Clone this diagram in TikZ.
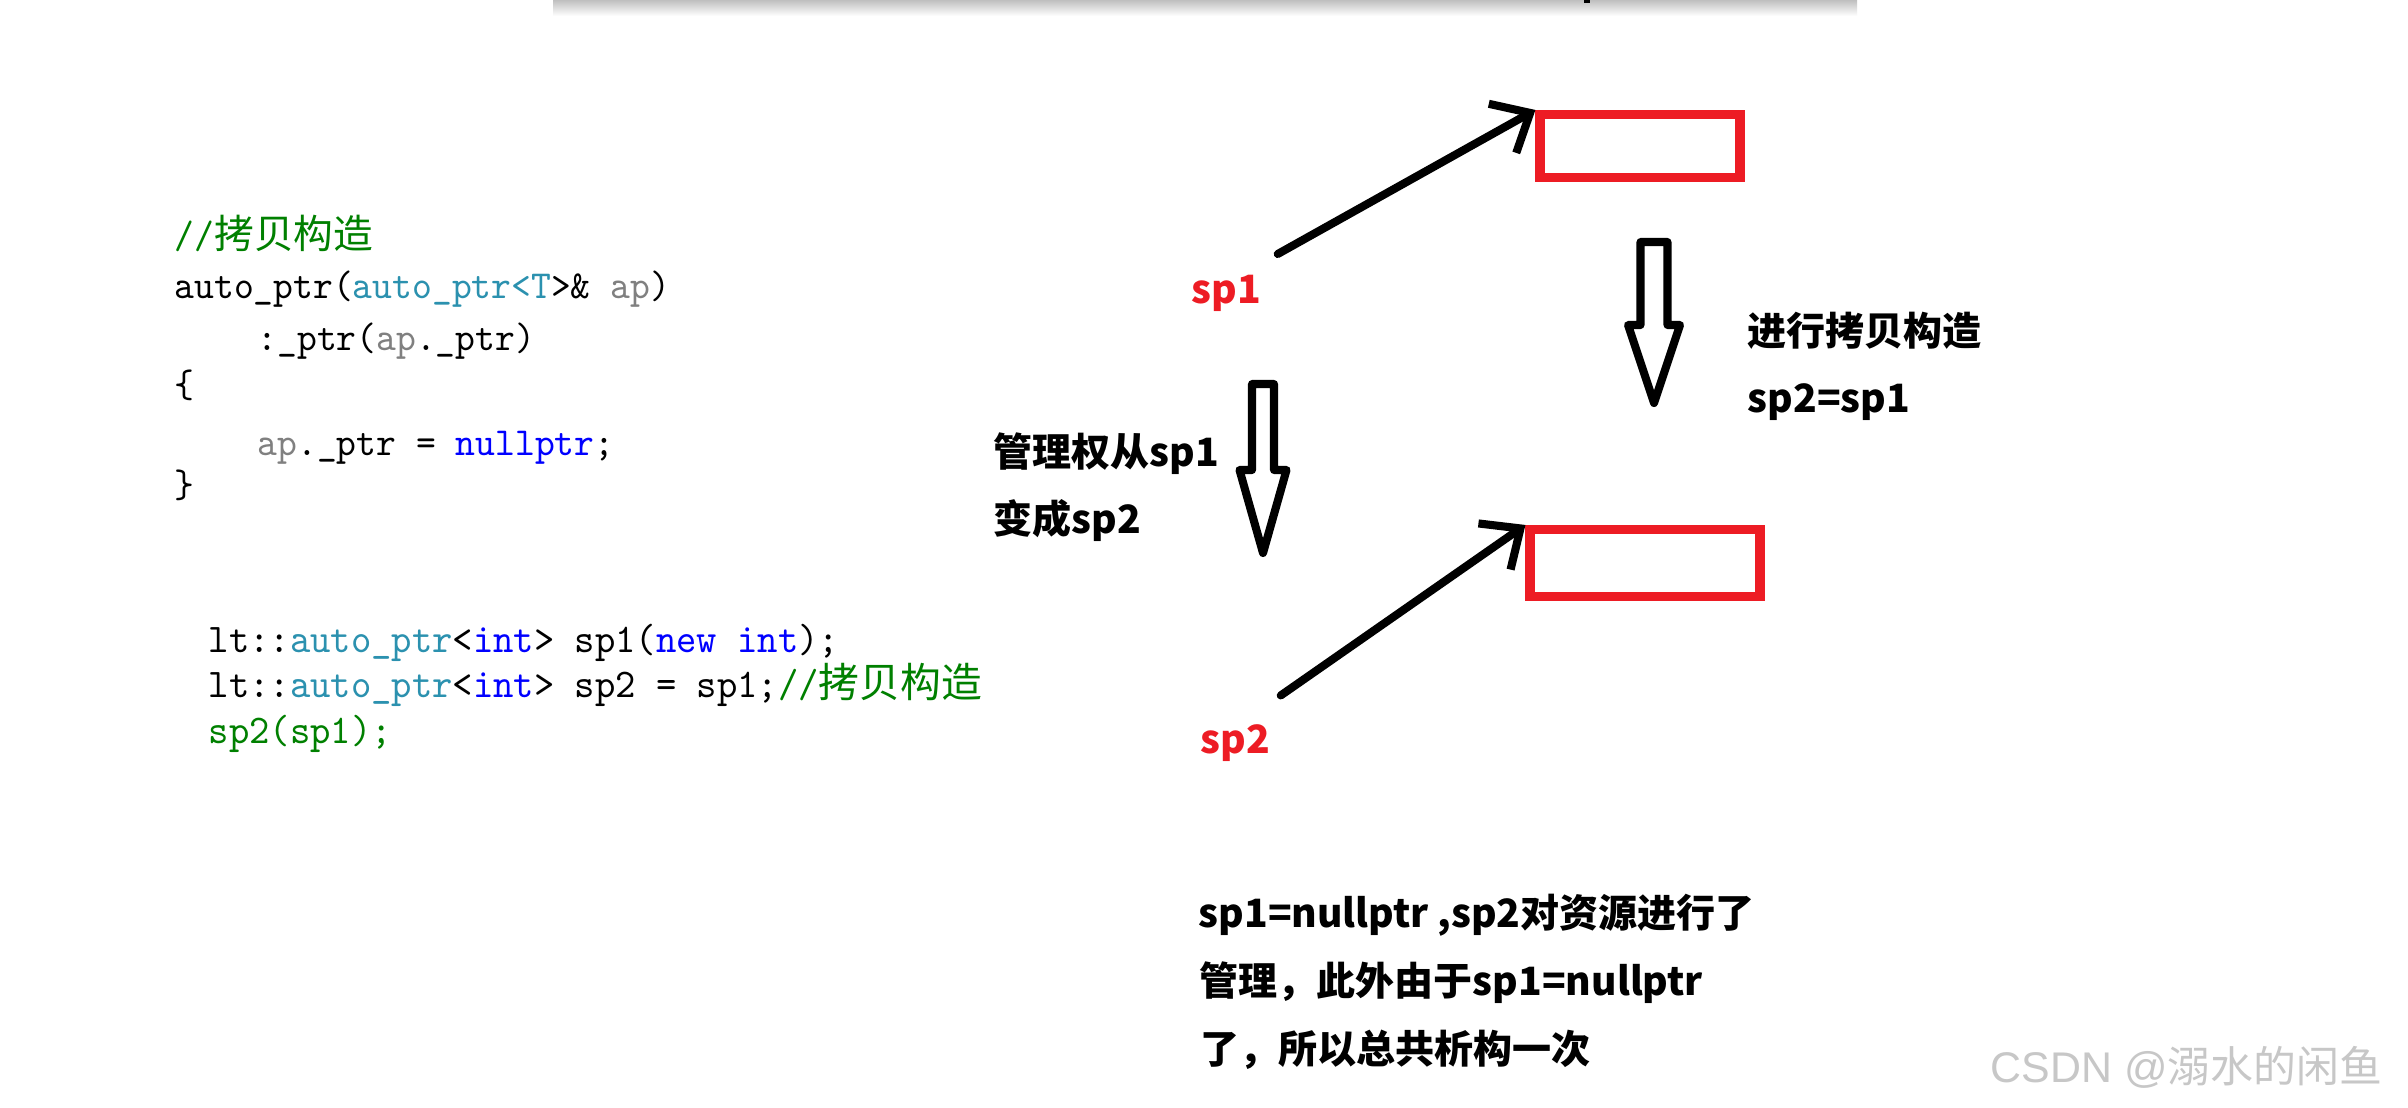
\documentclass[tikz,border=0pt]{standalone}
\usepackage{fontspec}
\usetikzlibrary{arrows.meta,positioning}

\newfontfamily\codefont{lmmono10-regular}[Extension=.otf, FakeStretch=0.95]
\newfontfamily\hanzi{Noto Sans CJK SC}
\newfontfamily\wmfont{Liberation Sans}

\definecolor{paintred}{HTML}{ED1C24}
\definecolor{vsgreen}{HTML}{008000}
\definecolor{vsteal}{HTML}{2B91AF}
\definecolor{vsgray}{HTML}{808080}
\definecolor{vsblue}{HTML}{0000FF}

\begin{document}
\begin{tikzpicture}[
    >={Straight Barb[length=9pt,width=16pt]},
    src/.style={
        anchor=base west,
        inner sep=0pt,
        font=\codefont\fontsize{11.3}{13}\selectfont
    },
    srcb/.style={
        src,
        font=\codefont\fontsize{11.6}{13}\selectfont
    },
    note/.style={
        anchor=base west,
        inner sep=0pt,
        font=\hanzi\bfseries\fontsize{11.1}{13}\selectfont
    },
    ptrlabel/.style={note, text=paintred},
    heap/.style={
        draw=paintred,
        line width=2.6pt,
        inner sep=0pt
    },
    arr/.style={->, line width=2.3pt, line cap=round},
    hollow/.style={line width=2.3pt, line join=round}
]
    \fill[white] (0,0) rectangle (24.08,-11.07);
    \useasboundingbox (0,0) rectangle (24.08,-11.07);
    \shade[top color=black!25, bottom color=white] (5.53,0) rectangle (18.57,-0.16);
    \fill (15.84,0) rectangle (15.90,-0.03);

    % copy constructor
    \node[src, text=vsgreen] (cmt) at (1.74,-2.48) {//{\hanzi 拷贝构造}};
    \node[src] (ctor) at (1.74,-2.98) {auto\_ptr({\color{vsteal}auto\_ptr<T}>\& {\color{vsgray}ap})};
    \node[src] (init) at (2.57,-3.50) {:\_ptr({\color{vsgray}ap}.\_ptr)};
    \node[src] (lbrace) at (1.74,-3.97) {\{};
    \node[src] (body) at (2.57,-4.55) {{\color{vsgray}ap}.\_ptr = {\color{vsblue}nullptr};};
    \node[src] (rbrace) at (1.74,-4.97) {\}};

    % usage
    \node[srcb] (decl1) at (2.08,-6.52) {lt::{\color{vsteal}auto\_ptr}<{\color{vsblue}int}> sp1({\color{vsblue}new int});};
    \node[srcb] (decl2) at (2.08,-6.97) {lt::{\color{vsteal}auto\_ptr}<{\color{vsblue}int}> sp2 = sp1;{\color{vsgreen}//{\hanzi 拷贝构造}}};
    \node[srcb, text=vsgreen] (decl3) at (2.08,-7.43) {sp2(sp1);};

    % pointers and resource
    \node[heap, minimum width=2.00cm, minimum height=0.63cm] (obj1) at (16.40,-1.46) {};
    \node[heap, minimum width=2.30cm, minimum height=0.67cm] (obj2) at (16.45,-5.63) {};

    \node[ptrlabel] (sp1) at (11.91,-3.03) {sp1};
    \node[ptrlabel] (sp2) at (12.00,-7.53) {sp2};

    \draw[arr] ([shift={(0.16,0.20)}]sp1.north east) -- (obj1.north west);
    \draw[arr] ([shift={(0.10,0.28)}]sp2.north east) -- (obj2.north west);

    % hollow arrows
    \draw[hollow] (16.405,-2.42) -- (16.405,-3.25) -- (16.28,-3.25) -- (16.54,-4.03)
        -- (16.80,-3.25) -- (16.675,-3.25) -- (16.675,-2.42) -- cycle;
    \draw[hollow] (12.52,-3.84) -- (12.52,-4.70) -- (12.395,-4.70) -- (12.63,-5.53)
        -- (12.865,-4.70) -- (12.74,-4.70) -- (12.74,-3.84) -- cycle;

    \node[note] (copy) at (17.47,-3.45) {进行拷贝构造};
    \node[note] (assign) at (17.47,-4.12) {sp2=sp1};
    \node[note] (owner1) at (9.93,-4.66) {管理权从sp1};
    \node[note] (owner2) at (9.93,-5.33) {变成sp2};

    \node[note] (res1) at (11.98,-9.27) {sp1=nullptr ,sp2对资源进行了};
    \node[note] (res2) at (11.99,-9.95) {管理，此外由于sp1=nullptr};
    \node[note] (res3) at (12.00,-10.63) {了，所以总共析构一次};

    \node[anchor=base west, inner sep=0pt, text=black!22,
        font=\wmfont\fontsize{12.2}{14}\selectfont] (mark) at (19.90,-10.82)
        {CSDN @{\hanzi 溺水的闲鱼}};
\end{tikzpicture}
\end{document}
